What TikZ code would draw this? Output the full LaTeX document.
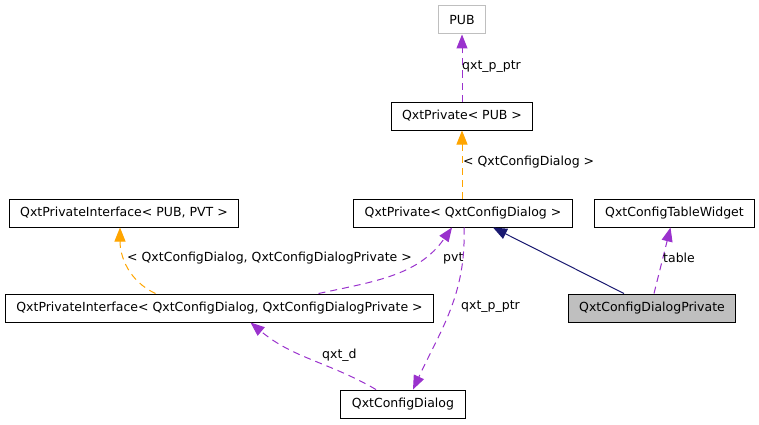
\documentclass[tikz,border=0pt]{standalone}
\usepackage{fontspec}
\setmainfont{DejaVu Sans}
\usetikzlibrary{arrows.meta}
\definecolor{linkpurple}{HTML}{9A32CD}
\definecolor{tmplorange}{HTML}{FFA500}
\definecolor{inhnavy}{HTML}{191970}
\definecolor{boxgray}{HTML}{BFBFBF}
\tikzset{
	cls/.style={draw=black, line width=1pt, minimum height=28pt, inner xsep=11pt, inner ysep=0pt, font=\fontsize{12.5}{14}\selectfont},
	usage/.style={draw=linkpurple, line width=1pt, dash pattern=on 7pt off 5pt, -{Triangle[length=14pt,width=11pt]}, linkpurple},
	tmpl/.style={draw=tmplorange, line width=1pt, dash pattern=on 7pt off 5pt, -{Triangle[length=14pt,width=11pt]}, tmplorange},
	inh/.style={draw=inhnavy, line width=1pt, -{Triangle[length=14pt,width=11pt]}, inhnavy},
	lbl/.style={anchor=west, inner sep=0pt, font=\fontsize{12.5}{14}\selectfont}
}
\begin{document}
\begin{tikzpicture}[x=1pt, y=1pt]
		%%%%% START %%%%%
		\useasboundingbox (0, 0) rectangle (759, 424);
		
		\node[cls, draw=boxgray] (pub) at (462, 404) {PUB};
		\node[cls] (privpub) at (462, 308) {QxtPrivate< PUB >};
		\node[cls] (privdlg) at (463, 211) {QxtPrivate< QxtConfigDialog >};
		\node[cls] (tablewidget) at (674.5, 211) {QxtConfigTableWidget};
		\node[cls] (ifacegen) at (124, 211) {QxtPrivateInterface< PUB, PVT >};
		\node[cls] (ifacedlg) at (219.5, 116) {QxtPrivateInterface< QxtConfigDialog, QxtConfigDialogPrivate >};
		\node[cls, fill=boxgray] (dlgpriv) at (652, 116) {QxtConfigDialogPrivate};
		\node[cls] (dlg) at (403, 20) {QxtConfigDialog};
		
		\draw[usage] (privpub.north) -- (pub.south);
		\node[lbl] (lptr) at (462, 357) {qxt\_p\_ptr};
		
		\draw[tmpl] (privdlg.north -| privpub) -- (privpub.south);
		\node[lbl] (ltmpl) at (463, 262) {< QxtConfigDialog >};
		
		\draw[tmpl] ([xshift=-64pt]ifacedlg.north) to[out=155, in=-90] ([xshift=-4pt]ifacegen.south);
		\node[lbl] (liface) at (127, 166) {< QxtConfigDialog, QxtConfigDialogPrivate >};
		
		\draw[usage] ([xshift=99pt]ifacedlg.north) to[out=12, in=235] ([xshift=-11pt]privdlg.south);
		\node[lbl] (lpvt) at (443, 166) {pvt};
		
		\draw[usage] ([xshift=1pt]privdlg.south) to[out=-88, in=65] ([xshift=10pt]dlg.north);
		\node[lbl] (lptrdlg) at (461, 117) {qxt\_p\_ptr};
		
		\draw[usage] ([xshift=-27pt]dlg.north) to[out=150, in=-40] ([xshift=31pt]ifacedlg.south);
		\node[lbl] (lqxtd) at (322, 69) {qxt\_d};
		
		\draw[inh] ([xshift=-28pt]dlgpriv.north) -- ([xshift=30pt]privdlg.south);
		\draw[usage] ([xshift=2pt]dlgpriv.north) -- ([xshift=-4pt]tablewidget.south);
		\node[lbl] (ltable) at (663, 166) {table};
		
		%%%%% END %%%%%
	\end{tikzpicture}
\end{document}
